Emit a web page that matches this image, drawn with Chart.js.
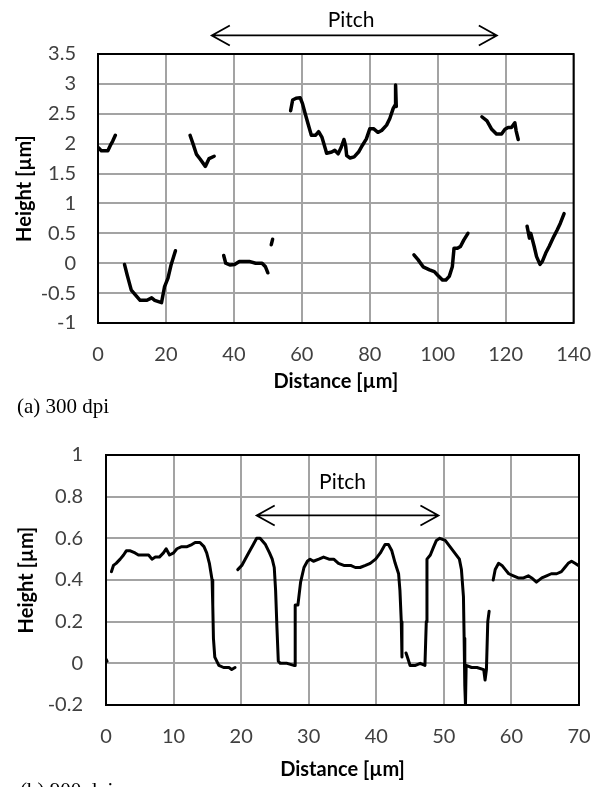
<!DOCTYPE html>
<html>
<head>
<meta charset="utf-8">
<script src="https://cdn.jsdelivr.net/npm/chart.js@4"></script>
<style>
  html, body { margin: 0; padding: 0; background: #fff; }
  body { width: 611px; height: 787px; position: relative; overflow: hidden; }
  canvas { position: absolute; left: 0; }
  #profile300 { top: 0; }
  #profile900 { top: 420px; }
</style>
</head>
<body>
<canvas id="profile300" width="611" height="420"></canvas>
<canvas id="profile900" width="611" height="367"></canvas>
<script>
// (a) 300 dpi profile, traced piece by piece: [distance µm, height µm]
const a300_1 = [[0.2,1.93],[1.0,1.88],[2.9,1.88],[3.8,1.99],[4.3,2.04],[5.1,2.14]];
const a300_2 = [[7.8,-0.02],[8.6,-0.2],[9.8,-0.45],[11,-0.53],[12.4,-0.62],[14.4,-0.62],[15.8,-0.58],[16.7,-0.62],[18.7,-0.66],[19.6,-0.39],[20.6,-0.25],[21.5,-0.03],[22.8,0.21]];
const a300_3 = [[27.1,2.14],[28.2,1.96],[29,1.82],[30.1,1.74],[31.6,1.62],[32.7,1.75],[34.2,1.79]];
const a300_4 = [[37,0.13],[37.6,0],[38.8,-0.03],[40.2,-0.02],[41.6,0.03],[44.5,0.03],[46.4,0],[48.3,0],[49.3,-0.06],[50,-0.16]];
const a300_5 = [[51,0.31],[51.4,0.4]];
const a300_6 = [[56.7,2.55],[57.3,2.73],[58.3,2.76],[59.5,2.77],[60.2,2.67],[61.1,2.48],[62.1,2.28],[62.8,2.14],[64,2.14],[64.95,2.2],[65.9,2.11],[66.9,1.92],[67.3,1.84],[68.8,1.86],[69.7,1.89],[70.7,1.83],[71.6,1.94],[72.4,2.07],[72.9,1.96],[73.2,1.8],[74.2,1.76],[75.4,1.78],[76.7,1.86],[77.8,1.97],[79,2.08],[80,2.25],[81.1,2.25],[82.4,2.19],[83.5,2.22],[84.95,2.31],[85.9,2.42],[86.9,2.59],[87.5,2.65],[87.6,2.98],[87.8,2.62]];
const a300_7 = [[113,2.45],[114.5,2.38],[115.9,2.24],[117.3,2.16],[118.8,2.16],[119.8,2.24],[120.7,2.27],[121.7,2.27],[122.7,2.35],[123.1,2.21],[123.7,2.07]];
const a300_8 = [[93,0.14],[94.2,0.06],[95.7,-0.06],[97.6,-0.11],[99,-0.14],[100,-0.2],[101.4,-0.28],[102.4,-0.28],[103.4,-0.22],[104.3,-0.06],[104.8,0.25],[105.8,0.25],[106.7,0.28],[107.7,0.39],[108.9,0.5]];
const a300_9 = [[126.3,0.62],[127,0.42],[127.4,0.5],[128.4,0.28],[129.1,0.11],[130.1,-0.02],[130.8,0.03],[131.8,0.17],[132.8,0.28],[134.2,0.45],[135.2,0.56],[136.1,0.67],[137.2,0.83]];

// (b) 900 dpi profile
const b900_1 = [[0,0.02],[0.15,0.01]];
const b900_2 = [[0.8,0.44],[1.1,0.47],[1.5,0.48],[2.1,0.5],[2.6,0.52],[3,0.54],[3.6,0.54],[4.3,0.53],[4.8,0.52],[5.6,0.52],[6.3,0.52],[6.8,0.5],[7.3,0.51],[7.9,0.51],[8.5,0.53],[8.9,0.55],[9.4,0.52],[10,0.53],[10.5,0.55],[11.2,0.56],[12,0.56],[12.7,0.57],[13.2,0.58],[13.9,0.58],[14.5,0.56],[14.9,0.53],[15.3,0.48],[15.7,0.4],[15.8,0.28],[15.9,0.12],[16.1,0.03],[16.7,-0.01],[17.4,-0.02],[18.2,-0.02],[18.6,-0.03],[19.1,-0.02]];
const b900_3 = [[19.5,0.45],[20.1,0.47],[20.6,0.5],[21.1,0.53],[21.8,0.57],[22.3,0.6],[22.8,0.6],[23.6,0.57],[24.2,0.53],[24.6,0.5],[24.9,0.46],[25.1,0.35],[25.3,0.17],[25.5,0.01],[25.8,0],[26.8,0],[27.8,-0.01],[28,-0.01],[28,0.28],[28.4,0.28],[28.8,0.39],[29.3,0.46],[29.8,0.49],[30.2,0.5],[30.7,0.49],[31.5,0.5],[32.2,0.51],[33,0.5],[33.7,0.5],[34.4,0.48],[35.2,0.47],[36.2,0.47],[36.9,0.46],[37.6,0.46],[38.4,0.47],[39.1,0.48],[39.9,0.5],[40.6,0.53],[41.3,0.57],[41.8,0.57],[42.3,0.54],[42.8,0.48],[43.3,0.43],[43.5,0.35],[43.7,0.2],[43.8,0.03]];
const b900_4 = [[44.4,0.05],[44.6,0.03],[45,-0.01],[45.8,-0.01],[46.5,0],[47.2,-0.01],[47.4,0.2],[47.5,0.5],[48,0.52],[48.5,0.56],[48.9,0.59],[49.4,0.6],[50.2,0.59],[50.9,0.56],[51.6,0.53],[52.3,0.5],[52.6,0.45],[52.9,0.32],[53,0.12],[53.1,-0.11],[53.2,-0.2],[53.3,-0.01],[54.1,-0.02],[54.9,-0.02],[55.9,-0.03],[56.1,-0.08],[56.3,-0.03],[56.5,0.2],[56.7,0.25]];
const b900_5 = [[57.3,0.4],[57.6,0.45],[58.1,0.48],[58.6,0.47],[59.1,0.45],[59.6,0.43],[60.3,0.42],[61,0.41],[61.8,0.41],[62.5,0.42],[63,0.41],[63.7,0.39],[64.5,0.41],[65.2,0.42],[65.9,0.43],[66.7,0.43],[67.4,0.44],[67.9,0.46],[68.4,0.48],[68.9,0.49],[69.4,0.48],[69.9,0.47]];

// axis ranges [min, max, step]
const xRange300 = [0, 140, 20];
const yRange300 = [-1, 3.5, 0.5];
const xRange900 = [0, 70, 10];
const yRange900 = [-0.2, 1, 0.2];

// pitch arrows (ends in µm, height in µm) and label anchor
const pitchArrow300 = [33.5, 117.4, 3.81];
const pitchLabel300 = [74.5, 4.06];
const pitchArrow900 = [22.3, 49.2, 0.71];
const pitchLabel900 = [35.0, 0.87];

Chart.defaults.font.family = 'Lato';

// plot frame, pitch arrow and the panel caption
const panelNotes = {
    id: 'panelNotes',
    afterDraw(chart, args, opts) {
        const { ctx, chartArea: a, scales: { x, y } } = chart;
        ctx.save();
        ctx.strokeStyle = '#000';
        ctx.lineWidth = 2;
        ctx.strokeRect(a.left, a.top, a.right - a.left, a.bottom - a.top);

        const x0 = x.getPixelForValue(opts.arrow[0]);
        const x1 = x.getPixelForValue(opts.arrow[1]);
        const ya = y.getPixelForValue(opts.arrow[2]);
        ctx.lineWidth = 1.8;
        ctx.beginPath();
        ctx.moveTo(x0, ya); ctx.lineTo(x1, ya);
        ctx.moveTo(x0 + 18, ya - 10); ctx.lineTo(x0, ya); ctx.lineTo(x0 + 18, ya + 10);
        ctx.moveTo(x1 - 18, ya - 10); ctx.lineTo(x1, ya); ctx.lineTo(x1 - 18, ya + 10);
        ctx.stroke();

        ctx.fillStyle = '#000';
        ctx.font = '21px Lato';
        ctx.textAlign = 'center';
        ctx.textBaseline = 'middle';
        ctx.fillText('Pitch', x.getPixelForValue(opts.label[0]), y.getPixelForValue(opts.label[1]));

        ctx.font = '21px "Liberation Serif"';
        ctx.textAlign = 'left';
        ctx.fillText(opts.caption, opts.captionAt[0], opts.captionAt[1]);
        ctx.restore();
    }
};

function fmt(v) {
    return String(Math.round(v * 10) / 10);
}

function renderProfile(id, segments, xr, yr, lay) {
    const ctx = document.getElementById(id).getContext('2d');
    return new Chart(ctx, {
        type: 'line',
        data: {
            datasets: segments.map(seg => ({
                data: seg.map(([x, y]) => ({ x, y })),
                borderColor: '#000',
                borderWidth: lay.lineWidth,
                borderCapStyle: 'round',
                borderJoinStyle: 'round',
                pointRadius: 0,
                tension: 0
            }))
        },
        options: {
            responsive: false,
            animation: false,
            events: [],
            layout: { padding: { top: lay.top, right: lay.right, left: 0, bottom: 0 } },
            plugins: {
                legend: { display: false },
                tooltip: { enabled: false },
                panelNotes: lay.notes
            },
            scales: {
                x: {
                    type: 'linear',
                    min: xr[0], max: xr[1],
                    afterFit: s => { s.height = lay.xHeight; },
                    ticks: { stepSize: xr[2], color: '#404040', font: { size: 20 }, padding: lay.xTickPad, callback: fmt },
                    grid: { color: '#a3a3a3', lineWidth: 2, drawTicks: false },
                    border: { display: false },
                    title: {
                        display: true, text: 'Distance [µm]', color: '#000',
                        font: { size: 20, weight: 'bold' }, padding: { top: 0, bottom: lay.xTitlePad }
                    }
                },
                y: {
                    min: yr[0], max: yr[1],
                    afterFit: s => { s.width = lay.yWidth; },
                    ticks: { stepSize: yr[2], color: '#404040', font: { size: 20 }, padding: lay.yTickPad, callback: fmt },
                    grid: { color: '#a3a3a3', lineWidth: 2, drawTicks: false },
                    border: { display: false },
                    title: {
                        display: true, text: 'Height [µm]', color: '#000',
                        font: { size: 20, weight: 'bold' }, padding: { top: lay.yTitlePad, bottom: 0 }
                    }
                }
            }
        },
        plugins: [panelNotes]
    });
}

renderProfile('profile300',
    [a300_1, a300_2, a300_3, a300_4, a300_5, a300_6, a300_7, a300_8, a300_9],
    xRange300, yRange300,
    {
        top: 54, right: 26, xHeight: 97, yWidth: 98,
        xTickPad: 20, xTitlePad: 26, yTickPad: 22, yTitlePad: 13, lineWidth: 3.5,
        notes: { arrow: pitchArrow300, label: pitchLabel300, caption: '(a) 300 dpi', captionAt: [17, 407] }
    });

renderProfile('profile900',
    [b900_1, b900_2, b900_3, b900_4, b900_5],
    xRange900, yRange900,
    {
        top: 29, right: 32, xHeight: 82, yWidth: 106,
        xTickPad: 20, xTitlePad: 5, yTickPad: 23, yTitlePad: 15, lineWidth: 3,
        notes: { arrow: pitchArrow900, label: pitchLabel900, caption: '(b) 900 dpi', captionAt: [20, 371] }
    });
</script>
</body>
</html>
